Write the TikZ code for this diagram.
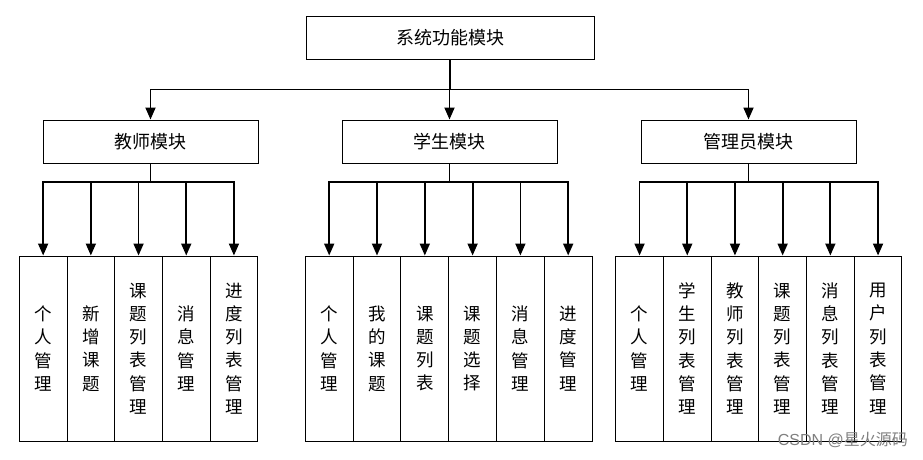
\documentclass[tikz,border=0pt]{standalone}
\usepackage{fontspec}
\setmainfont{Noto Sans CJK SC}
\newfontfamily\wmfont{Liberation Sans}
\newfontfamily\wmcjk{Noto Sans CJK SC}
\usetikzlibrary{arrows.meta,positioning}
\begin{document}
\begin{tikzpicture}[x=1pt,y=-1pt,
  box/.style={draw=black,line width=1pt,inner sep=0pt,font=\fontsize{18}{20}\selectfont},
  leaf/.style={draw=black,line width=1pt,inner sep=0pt,minimum width=47.7pt,minimum height=185pt,align=center,font=\fontsize{17.5}{23.3}\selectfont},
  arr/.style={line width=1.8pt,-{Triangle[width=10pt,length=12pt]}}]
\useasboundingbox (0,0) rectangle (923,459);
\fill[white] (0,0) rectangle (923,459);
% top
\node[box,minimum width=288pt,minimum height=43pt] (top) at (450,37.5) {系统功能模块};
\node[box,minimum width=215pt,minimum height=43pt] (t) at (150.5,141.5) {教师模块};
\node[box,minimum width=215pt,minimum height=43pt] (s) at (449.5,141.5) {学生模块};
\node[box,minimum width=215pt,minimum height=43pt] (a) at (748.5,141.5) {管理员模块};
\foreach \n in {t,s,a}{
  \draw[arr] (top.south) -- ++(0,30) -| (\n.north);
}
% teacher leaves
\foreach \i/\txt in {1/{个\\人\\管\\理},2/{新\\增\\课\\题},3/{课\\题\\列\\表\\管\\理},4/{消\\息\\管\\理},5/{进\\度\\列\\表\\管\\理}}{
  \node[leaf] (t\i) at ({19.3+47.7*(\i-0.5)},348.5) {\txt};
  \draw[arr] (t.south) -- ++(0,18.5) -| (t\i.north);
}
% student leaves
\foreach \i/\txt in {1/{个\\人\\管\\理},2/{我\\的\\课\\题},3/{课\\题\\列\\表},4/{课\\题\\选\\择},5/{消\\息\\管\\理},6/{进\\度\\管\\理}}{
  \node[leaf] (s\i) at ({305.3+47.8*(\i-0.5)},348.5) {\txt};
  \draw[arr] (s.south) -- ++(0,18.5) -| (s\i.north);
}
% admin leaves
\foreach \i/\txt in {1/{个\\人\\管\\理},2/{学\\生\\列\\表\\管\\理},3/{教\\师\\列\\表\\管\\理},4/{课\\题\\列\\表\\管\\理},5/{消\\息\\列\\表\\管\\理},6/{用\\户\\列\\表\\管\\理}}{
  \node[leaf] (a\i) at ({615.7+47.7*(\i-0.5)},348.5) {\txt};
  \draw[arr] (a.south) -- ++(0,18.5) -| (a\i.north);
}
\node[anchor=east,inner sep=0pt,text=black!50,font=\fontsize{16}{18}\selectfont] (wm) at (908,440) {\wmfont CSDN @\wmcjk 星火源码};
\end{tikzpicture}
\end{document}
